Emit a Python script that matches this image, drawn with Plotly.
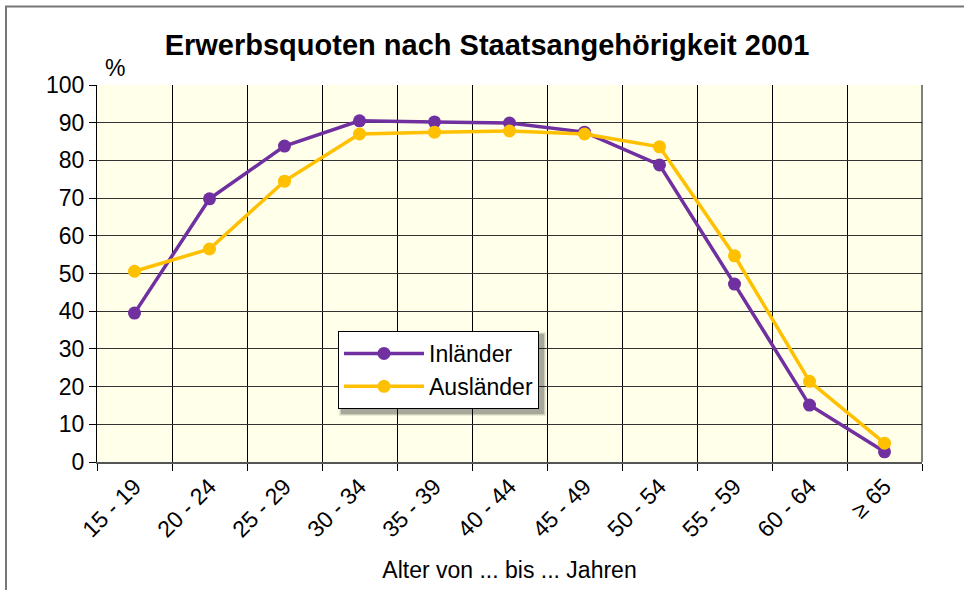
import plotly.graph_objects as go

categories = ["15 - 19", "20 - 24", "25 - 29", "30 - 34", "35 - 39", "40 - 44",
              "45 - 49", "50 - 54", "55 - 59", "60 - 64", "≥ 65"]
inlaender = [39.5, 69.8, 83.8, 90.5, 90.2, 89.9, 87.5, 78.8, 47.2, 15.1, 2.7]
auslaender = [50.6, 56.5, 74.5, 87.0, 87.5, 87.8, 87.0, 83.6, 54.7, 21.4, 5.0]
y_ticks = [0, 10, 20, 30, 40, 50, 60, 70, 80, 90, 100]

FONT = "Liberation Sans, Arial, sans-serif"
W, H = 964, 590
L, R, T, B = 97, 42, 85, 128
PW, PH = W - L - R, H - T - B

def px_x(p):
    return (p - L) / PW

def px_y(p):
    return (H - B - p) / PH

fig = go.Figure()
fig.add_trace(go.Scatter(x=categories, y=inlaender, name="Inländer", mode="lines+markers",
                         line=dict(color="#7030A0", width=3.5),
                         marker=dict(color="#7030A0", size=13)))
fig.add_trace(go.Scatter(x=categories, y=auslaender, name="Ausländer", mode="lines+markers",
                         line=dict(color="#FFC000", width=3.5),
                         marker=dict(color="#FFC000", size=13)))

LEG_X, LEG_Y = 338, 331

fig.update_layout(
    width=W, height=H,
    margin=dict(l=L, r=R, t=T, b=B, autoexpand=False),
    paper_bgcolor="white",
    plot_bgcolor="#FFFFEA",
    font=dict(family=FONT, size=23, color="black"),
    title=dict(text="<b>Erwerbsquoten nach Staatsangehörigkeit 2001</b>",
               x=487 / W, xanchor="center", y=1 - 45 / H, yanchor="middle",
               font=dict(size=29, family=FONT)),
    showlegend=True,
    legend=dict(x=px_x(LEG_X), y=px_y(LEG_Y), xanchor="left", yanchor="top",
                bgcolor="white", bordercolor="black", borderwidth=1,
                font=dict(size=23, family=FONT), itemwidth=80,
                tracegroupgap=0),
    xaxis=dict(type="category", tickson="boundaries", showgrid=True,
               range=[-0.5, len(categories) - 0.5],
               gridcolor="black", gridwidth=1, ticks="outside", ticklen=7,
               tickcolor="black", tickangle=-45, showline=True, linecolor="#555",
               linewidth=2, mirror=False, zeroline=False, automargin=False,
               title=dict(text="Alter von ... bis ... Jahren", standoff=20,
                          font=dict(size=23)),
               tickfont=dict(size=23)),
    yaxis=dict(range=[0, 100], tickvals=y_ticks, showgrid=True, gridcolor="#333",
               gridwidth=1, ticks="outside", ticklen=7, tickcolor="black",
               showline=True, linecolor="black", linewidth=1, zeroline=False,
               automargin=False, tickfont=dict(size=23)),
)

# "%" unit label
fig.add_annotation(text="%", xref="paper", yref="paper", x=px_x(115), y=px_y(68),
                   showarrow=False, font=dict(size=23, family=FONT),
                   xanchor="center", yanchor="middle")

# right edge of plot area
fig.add_shape(type="line", xref="paper", yref="paper", x0=1, x1=1, y0=0, y1=1,
              line=dict(color="black", width=1))

# outer frame (open to the right and bottom, as in the reference)
fig.add_shape(type="rect", xref="paper", yref="paper",
              x0=px_x(6), x1=px_x(975), y0=px_y(6.5), y1=px_y(600),
              line=dict(color="#777", width=2), fillcolor="rgba(0,0,0,0)")

fig.write_html("out.html", config={"displayModeBar": False},
               post_script="""
document.body.style.margin='0';
var gd = document.getElementsByClassName('plotly-graph-div')[0];
function addShadow(){
  var bg = gd.querySelector('.legend .bg');
  if(!bg) return;
  var b = bg.getBBox();
  var leg = gd.querySelector('.legend');
  var m = leg.getAttribute('transform').match(/translate\\(([-\\d.]+),\\s*([-\\d.]+)\\)/);
  var tx = parseFloat(m[1]), ty = parseFloat(m[2]);
  var ns = 'http://www.w3.org/2000/svg';
  var layer = gd.querySelector('.infolayer');
  var layers = [[7, 0.08], [5, 0.12], [3, 0.18]];
  layers.forEach(function(l){
    var r = document.createElementNS(ns, 'rect');
    r.setAttribute('x', tx + b.x + 4 - l[0]/2);
    r.setAttribute('y', ty + b.y + 4 - l[0]/2);
    r.setAttribute('width', b.width + l[0]);
    r.setAttribute('height', b.height + l[0]);
    r.setAttribute('fill', 'rgba(0,0,0,' + l[1] + ')');
    layer.insertBefore(r, leg);
  });
}
addShadow();
""")
